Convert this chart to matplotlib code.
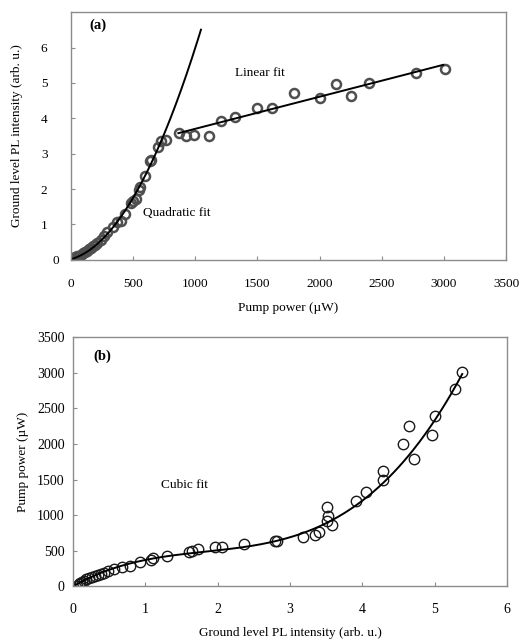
import numpy as np
import matplotlib
matplotlib.use('Agg')
import matplotlib.pyplot as plt
import matplotlib.transforms as mtransforms

plt.rcParams['font.family'] = ['Liberation Serif', 'DejaVu Serif']

# measured points: pump power (uW) and ground level PL intensity (arb. u.)
pump = [10, 30, 50, 65, 80, 95, 110, 125, 145, 160, 175, 190, 210, 244, 267,
        290, 337, 370, 398, 431, 478, 500, 525, 548, 558, 595, 633, 640, 698,
        722, 760, 867, 923, 993, 1110, 1204, 1321, 1500, 1617, 1790, 2001,
        2132, 2249, 2399, 2774, 3008]
pl = [0.05, 0.08, 0.10, 0.12, 0.15, 0.18, 0.22, 0.26, 0.30, 0.34, 0.38, 0.42,
      0.48, 0.56, 0.68, 0.78, 0.93, 1.07, 1.11, 1.30, 1.60, 1.65, 1.73, 1.96,
      2.06, 2.36, 2.79, 2.82, 3.18, 3.35, 3.40, 3.58, 3.51, 3.53, 3.51, 3.91,
      4.05, 4.29, 4.29, 4.71, 4.56, 4.96, 4.64, 5.00, 5.28, 5.38]

# fit coefficients (highest power first)
quad_coef = [5.0e-6, 9.8e-4, 0.02]
quad_range = [0, 1045]
lin_coef = [9.06e-4, 2.798]
lin_range = [863, 2994]
cubic_coef = [47.2, -259.0, 581.8, 0.0]
cubic_range = [0.04, 5.38]

fig = plt.figure(figsize=(5.19, 6.4), dpi=100)
ax1 = fig.add_axes([0.137, 0.594, 0.838, 0.387])
ax2 = fig.add_axes([0.141, 0.084, 0.836, 0.389])

spine_col = '#8c8c8c'
for ax in (ax1, ax2):
    for s in ax.spines.values():
        s.set_color(spine_col)
        s.set_linewidth(1.0)
    ax.tick_params(direction='in', length=3, color=spine_col, width=0.8)

# (a) PL intensity vs pump power
ax1.plot(pump, pl, 'o', mfc='none', mec='#4f4f4f', mew=1.8, ms=6.5)
xq = np.linspace(quad_range[0], quad_range[1], 200)
ax1.plot(xq, np.polyval(quad_coef, xq), color='black', lw=1.4)
xl = np.array(lin_range)
ax1.plot(xl, np.polyval(lin_coef, xl), color='black', lw=1.4)
ax1.set_xlim(0, 3500)
ax1.set_ylim(0, 7)
ax1.set_xticks(np.arange(0, 3501, 500))
ax1.set_yticks(np.arange(0, 7, 1))
ax1.tick_params(axis='x', labelsize=9.5, pad=13)
ax1.tick_params(axis='y', labelsize=9.5, pad=17)
ax1.set_xlabel('Pump power (\u00b5W)', fontsize=9.5, labelpad=9)
ax1.set_ylabel('Ground level PL intensity (arb. u.)', fontsize=9.5, labelpad=13)
ax1.text(150, 6.62, '(a)', fontsize=10.5, fontweight='bold', va='center')
ax1.text(1520, 5.27, 'Linear fit', fontsize=9.5, ha='center', va='center')
ax1.text(853, 1.32, 'Quadratic fit', fontsize=9.5, ha='center', va='center')
# the zero label sits closer to the axis
zero_lab = ax1.yaxis.get_major_ticks()[0].label1
zero_lab.set_transform(zero_lab.get_transform() +
                       mtransforms.ScaledTranslation(12 / 100, 0, fig.dpi_scale_trans))

# (b) pump power vs PL intensity
ax2.plot(pl, pump, 'o', mfc='none', mec='#1a1a1a', mew=1.0, ms=7.5)
xc = np.linspace(cubic_range[0], cubic_range[1], 300)
ax2.plot(xc, np.polyval(cubic_coef, xc), color='black', lw=1.4)
ax2.set_xlim(0, 6)
ax2.set_ylim(0, 3500)
ax2.set_xticks(np.arange(0, 7, 1))
ax2.set_yticks(np.arange(0, 3501, 500))
ax2.tick_params(axis='x', labelsize=10, pad=12)
ax2.tick_params(axis='y', labelsize=10, pad=6)
ax2.set_xlabel('Ground level PL intensity (arb. u.)', fontsize=9.5, labelpad=8)
ax2.set_ylabel('Pump power (\u00b5W)', fontsize=9.5, labelpad=6)
ax2.text(0.28, 3230, '(b)', fontsize=10.5, fontweight='bold', va='center')
ax2.text(1.54, 1430, 'Cubic fit', fontsize=9.5, ha='center', va='center')

fig.savefig('out.png', dpi=100)
